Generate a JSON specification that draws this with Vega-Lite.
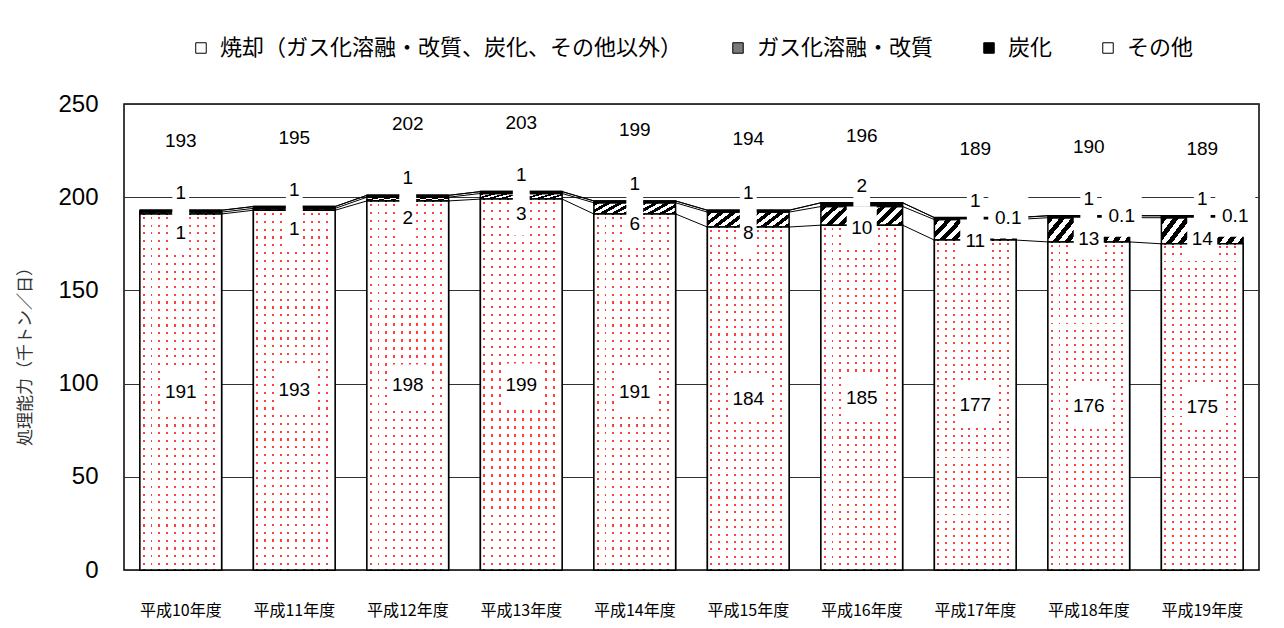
{
  "$schema": "https://vega.github.io/schema/vega-lite/v6.json",
  "width": 1135,
  "height": 466,
  "autosize": {"type": "none"},
  "padding": {"left": 124, "top": 104, "right": 25, "bottom": 58},
  "background": "#ffffff",
  "datasets": {
    "main": [
      {"year": "平成10年度", "series": "焼却（ガス化溶融・改質、炭化、その他以外）", "order": 1, "value": 191},
      {"year": "平成11年度", "series": "焼却（ガス化溶融・改質、炭化、その他以外）", "order": 1, "value": 193},
      {"year": "平成12年度", "series": "焼却（ガス化溶融・改質、炭化、その他以外）", "order": 1, "value": 198},
      {"year": "平成13年度", "series": "焼却（ガス化溶融・改質、炭化、その他以外）", "order": 1, "value": 199},
      {"year": "平成14年度", "series": "焼却（ガス化溶融・改質、炭化、その他以外）", "order": 1, "value": 191},
      {"year": "平成15年度", "series": "焼却（ガス化溶融・改質、炭化、その他以外）", "order": 1, "value": 184},
      {"year": "平成16年度", "series": "焼却（ガス化溶融・改質、炭化、その他以外）", "order": 1, "value": 185},
      {"year": "平成17年度", "series": "焼却（ガス化溶融・改質、炭化、その他以外）", "order": 1, "value": 177},
      {"year": "平成18年度", "series": "焼却（ガス化溶融・改質、炭化、その他以外）", "order": 1, "value": 176},
      {"year": "平成19年度", "series": "焼却（ガス化溶融・改質、炭化、その他以外）", "order": 1, "value": 175},
      {"year": "平成10年度", "series": "ガス化溶融・改質", "order": 2, "value": 1},
      {"year": "平成11年度", "series": "ガス化溶融・改質", "order": 2, "value": 1},
      {"year": "平成12年度", "series": "ガス化溶融・改質", "order": 2, "value": 2},
      {"year": "平成13年度", "series": "ガス化溶融・改質", "order": 2, "value": 3},
      {"year": "平成14年度", "series": "ガス化溶融・改質", "order": 2, "value": 6},
      {"year": "平成15年度", "series": "ガス化溶融・改質", "order": 2, "value": 8},
      {"year": "平成16年度", "series": "ガス化溶融・改質", "order": 2, "value": 10},
      {"year": "平成17年度", "series": "ガス化溶融・改質", "order": 2, "value": 11},
      {"year": "平成18年度", "series": "ガス化溶融・改質", "order": 2, "value": 13},
      {"year": "平成19年度", "series": "ガス化溶融・改質", "order": 2, "value": 14},
      {"year": "平成10年度", "series": "炭化", "order": 3, "value": 1},
      {"year": "平成11年度", "series": "炭化", "order": 3, "value": 1},
      {"year": "平成12年度", "series": "炭化", "order": 3, "value": 1},
      {"year": "平成13年度", "series": "炭化", "order": 3, "value": 1},
      {"year": "平成14年度", "series": "炭化", "order": 3, "value": 1},
      {"year": "平成15年度", "series": "炭化", "order": 3, "value": 1},
      {"year": "平成16年度", "series": "炭化", "order": 3, "value": 2},
      {"year": "平成17年度", "series": "炭化", "order": 3, "value": 1},
      {"year": "平成18年度", "series": "炭化", "order": 3, "value": 1},
      {"year": "平成19年度", "series": "炭化", "order": 3, "value": 1},
      {"year": "平成10年度", "series": "その他", "order": 4, "value": 0},
      {"year": "平成11年度", "series": "その他", "order": 4, "value": 0},
      {"year": "平成12年度", "series": "その他", "order": 4, "value": 0},
      {"year": "平成13年度", "series": "その他", "order": 4, "value": 0},
      {"year": "平成14年度", "series": "その他", "order": 4, "value": 0},
      {"year": "平成15年度", "series": "その他", "order": 4, "value": 0},
      {"year": "平成16年度", "series": "その他", "order": 4, "value": 0},
      {"year": "平成17年度", "series": "その他", "order": 4, "value": 0.1},
      {"year": "平成18年度", "series": "その他", "order": 4, "value": 0.1},
      {"year": "平成19年度", "series": "その他", "order": 4, "value": 0.1}
    ],
    "totals": [
      {"year": "平成10年度", "total": 193},
      {"year": "平成11年度", "total": 195},
      {"year": "平成12年度", "total": 202},
      {"year": "平成13年度", "total": 203},
      {"year": "平成14年度", "total": 199},
      {"year": "平成15年度", "total": 194},
      {"year": "平成16年度", "total": 196},
      {"year": "平成17年度", "total": 189},
      {"year": "平成18年度", "total": 190},
      {"year": "平成19年度", "total": 189}
    ]
  },
  "layer": [
    {
      "data": {"name": "main"},
      "transform": [
        {"stack": "value", "groupby": ["year"], "sort": [{"field": "order", "order": "ascending"}], "as": ["y0", "y1"]},
        {"calculate": "(datum.y0 + datum.y1) / 2", "as": "mid"},
        {"calculate": "length(toString(datum.value))", "as": "len"}
      ],
      "layer": [
        {
          "mark": {"type": "bar", "stroke": "#000000", "strokeWidth": 1.5},
          "encoding": {
            "x": {"field": "year", "type": "nominal", "scale": {"paddingInner": 0.28, "paddingOuter": 0.14}, "axis": {"title": null}},
            "y": {"field": "y1", "type": "quantitative", "scale": {"domain": [0, 250], "nice": false}, "axis": {"title": "処理能力（千トン／日）"}},
            "y2": {"field": "y0"},
            "fill": {
              "field": "series", "type": "nominal",
              "scale": {
                "domain": ["焼却（ガス化溶融・改質、炭化、その他以外）", "ガス化溶融・改質", "炭化", "その他"],
                "range": ["#ffffff", "#7a7a7a", "#000000", "#ffffff"]
              },
              "legend": {
                "orient": "none", "legendX": 66, "legendY": -67, "direction": "horizontal", "title": null,
                "symbolType": "square", "symbolSize": 110, "symbolStrokeColor": "#000000", "symbolStrokeWidth": 1,
                "labelFont": "Noto Sans CJK JP", "labelFontSize": 22, "labelColor": "#000000", "labelLimit": 700,
                "columnPadding": 44, "labelOffset": 8
              },
              "condition": [
                {
                  "test": "datum.order === 1",
                  "value": {
                    "gradient": "linear", "x1": 0, "y1": 0, "x2": 0, "y2": 1,
                    "stops": [
                      {"offset": 0, "color": "#ffffff"},
                      {"offset": 0.008, "color": "#ffffff"}, {"offset": 0.008, "color": "#ff4040"}, {"offset": 0.0140, "color": "#ff4040"}, {"offset": 0.0140, "color": "#ffffff"},
                      {"offset": 0.0296, "color": "#ffffff"}, {"offset": 0.0296, "color": "#ff4040"}, {"offset": 0.0356, "color": "#ff4040"}, {"offset": 0.0356, "color": "#ffffff"},
                      {"offset": 0.0512, "color": "#ffffff"}, {"offset": 0.0512, "color": "#ff4040"}, {"offset": 0.0572, "color": "#ff4040"}, {"offset": 0.0572, "color": "#ffffff"},
                      {"offset": 0.0728, "color": "#ffffff"}, {"offset": 0.0728, "color": "#ff4040"}, {"offset": 0.0788, "color": "#ff4040"}, {"offset": 0.0788, "color": "#ffffff"},
                      {"offset": 0.0944, "color": "#ffffff"}, {"offset": 0.0944, "color": "#ff4040"}, {"offset": 0.1004, "color": "#ff4040"}, {"offset": 0.1004, "color": "#ffffff"},
                      {"offset": 0.1160, "color": "#ffffff"}, {"offset": 0.1160, "color": "#ff4040"}, {"offset": 0.1220, "color": "#ff4040"}, {"offset": 0.1220, "color": "#ffffff"},
                      {"offset": 0.1376, "color": "#ffffff"}, {"offset": 0.1376, "color": "#ff4040"}, {"offset": 0.1436, "color": "#ff4040"}, {"offset": 0.1436, "color": "#ffffff"},
                      {"offset": 0.1592, "color": "#ffffff"}, {"offset": 0.1592, "color": "#ff4040"}, {"offset": 0.1652, "color": "#ff4040"}, {"offset": 0.1652, "color": "#ffffff"},
                      {"offset": 0.1808, "color": "#ffffff"}, {"offset": 0.1808, "color": "#ff4040"}, {"offset": 0.1868, "color": "#ff4040"}, {"offset": 0.1868, "color": "#ffffff"},
                      {"offset": 0.2024, "color": "#ffffff"}, {"offset": 0.2024, "color": "#ff4040"}, {"offset": 0.2084, "color": "#ff4040"}, {"offset": 0.2084, "color": "#ffffff"},
                      {"offset": 0.2240, "color": "#ffffff"}, {"offset": 0.2240, "color": "#ff4040"}, {"offset": 0.2300, "color": "#ff4040"}, {"offset": 0.2300, "color": "#ffffff"},
                      {"offset": 0.2456, "color": "#ffffff"}, {"offset": 0.2456, "color": "#ff4040"}, {"offset": 0.2516, "color": "#ff4040"}, {"offset": 0.2516, "color": "#ffffff"},
                      {"offset": 0.2672, "color": "#ffffff"}, {"offset": 0.2672, "color": "#ff4040"}, {"offset": 0.2732, "color": "#ff4040"}, {"offset": 0.2732, "color": "#ffffff"},
                      {"offset": 0.2888, "color": "#ffffff"}, {"offset": 0.2888, "color": "#ff4040"}, {"offset": 0.2948, "color": "#ff4040"}, {"offset": 0.2948, "color": "#ffffff"},
                      {"offset": 0.3104, "color": "#ffffff"}, {"offset": 0.3104, "color": "#ff4040"}, {"offset": 0.3164, "color": "#ff4040"}, {"offset": 0.3164, "color": "#ffffff"},
                      {"offset": 0.3320, "color": "#ffffff"}, {"offset": 0.3320, "color": "#ff4040"}, {"offset": 0.3380, "color": "#ff4040"}, {"offset": 0.3380, "color": "#ffffff"},
                      {"offset": 0.3536, "color": "#ffffff"}, {"offset": 0.3536, "color": "#ff4040"}, {"offset": 0.3596, "color": "#ff4040"}, {"offset": 0.3596, "color": "#ffffff"},
                      {"offset": 0.3752, "color": "#ffffff"}, {"offset": 0.3752, "color": "#ff4040"}, {"offset": 0.3812, "color": "#ff4040"}, {"offset": 0.3812, "color": "#ffffff"},
                      {"offset": 0.3968, "color": "#ffffff"}, {"offset": 0.3968, "color": "#ff4040"}, {"offset": 0.4028, "color": "#ff4040"}, {"offset": 0.4028, "color": "#ffffff"},
                      {"offset": 0.4184, "color": "#ffffff"}, {"offset": 0.4184, "color": "#ff4040"}, {"offset": 0.4244, "color": "#ff4040"}, {"offset": 0.4244, "color": "#ffffff"},
                      {"offset": 0.4400, "color": "#ffffff"}, {"offset": 0.4400, "color": "#ff4040"}, {"offset": 0.4460, "color": "#ff4040"}, {"offset": 0.4460, "color": "#ffffff"},
                      {"offset": 0.4616, "color": "#ffffff"}, {"offset": 0.4616, "color": "#ff4040"}, {"offset": 0.4676, "color": "#ff4040"}, {"offset": 0.4676, "color": "#ffffff"},
                      {"offset": 0.4832, "color": "#ffffff"}, {"offset": 0.4832, "color": "#ff4040"}, {"offset": 0.4892, "color": "#ff4040"}, {"offset": 0.4892, "color": "#ffffff"},
                      {"offset": 0.5048, "color": "#ffffff"}, {"offset": 0.5048, "color": "#ff4040"}, {"offset": 0.5108, "color": "#ff4040"}, {"offset": 0.5108, "color": "#ffffff"},
                      {"offset": 0.5264, "color": "#ffffff"}, {"offset": 0.5264, "color": "#ff4040"}, {"offset": 0.5324, "color": "#ff4040"}, {"offset": 0.5324, "color": "#ffffff"},
                      {"offset": 0.5480, "color": "#ffffff"}, {"offset": 0.5480, "color": "#ff4040"}, {"offset": 0.5540, "color": "#ff4040"}, {"offset": 0.5540, "color": "#ffffff"},
                      {"offset": 0.5696, "color": "#ffffff"}, {"offset": 0.5696, "color": "#ff4040"}, {"offset": 0.5756, "color": "#ff4040"}, {"offset": 0.5756, "color": "#ffffff"},
                      {"offset": 0.5912, "color": "#ffffff"}, {"offset": 0.5912, "color": "#ff4040"}, {"offset": 0.5972, "color": "#ff4040"}, {"offset": 0.5972, "color": "#ffffff"},
                      {"offset": 0.6128, "color": "#ffffff"}, {"offset": 0.6128, "color": "#ff4040"}, {"offset": 0.6188, "color": "#ff4040"}, {"offset": 0.6188, "color": "#ffffff"},
                      {"offset": 0.6344, "color": "#ffffff"}, {"offset": 0.6344, "color": "#ff4040"}, {"offset": 0.6404, "color": "#ff4040"}, {"offset": 0.6404, "color": "#ffffff"},
                      {"offset": 0.6560, "color": "#ffffff"}, {"offset": 0.6560, "color": "#ff4040"}, {"offset": 0.6620, "color": "#ff4040"}, {"offset": 0.6620, "color": "#ffffff"},
                      {"offset": 0.6776, "color": "#ffffff"}, {"offset": 0.6776, "color": "#ff4040"}, {"offset": 0.6836, "color": "#ff4040"}, {"offset": 0.6836, "color": "#ffffff"},
                      {"offset": 0.6992, "color": "#ffffff"}, {"offset": 0.6992, "color": "#ff4040"}, {"offset": 0.7052, "color": "#ff4040"}, {"offset": 0.7052, "color": "#ffffff"},
                      {"offset": 0.7208, "color": "#ffffff"}, {"offset": 0.7208, "color": "#ff4040"}, {"offset": 0.7268, "color": "#ff4040"}, {"offset": 0.7268, "color": "#ffffff"},
                      {"offset": 0.7424, "color": "#ffffff"}, {"offset": 0.7424, "color": "#ff4040"}, {"offset": 0.7484, "color": "#ff4040"}, {"offset": 0.7484, "color": "#ffffff"},
                      {"offset": 0.7640, "color": "#ffffff"}, {"offset": 0.7640, "color": "#ff4040"}, {"offset": 0.7700, "color": "#ff4040"}, {"offset": 0.7700, "color": "#ffffff"},
                      {"offset": 0.7856, "color": "#ffffff"}, {"offset": 0.7856, "color": "#ff4040"}, {"offset": 0.7916, "color": "#ff4040"}, {"offset": 0.7916, "color": "#ffffff"},
                      {"offset": 0.8072, "color": "#ffffff"}, {"offset": 0.8072, "color": "#ff4040"}, {"offset": 0.8132, "color": "#ff4040"}, {"offset": 0.8132, "color": "#ffffff"},
                      {"offset": 0.8288, "color": "#ffffff"}, {"offset": 0.8288, "color": "#ff4040"}, {"offset": 0.8348, "color": "#ff4040"}, {"offset": 0.8348, "color": "#ffffff"},
                      {"offset": 0.8504, "color": "#ffffff"}, {"offset": 0.8504, "color": "#ff4040"}, {"offset": 0.8564, "color": "#ff4040"}, {"offset": 0.8564, "color": "#ffffff"},
                      {"offset": 0.8720, "color": "#ffffff"}, {"offset": 0.8720, "color": "#ff4040"}, {"offset": 0.8780, "color": "#ff4040"}, {"offset": 0.8780, "color": "#ffffff"},
                      {"offset": 0.8936, "color": "#ffffff"}, {"offset": 0.8936, "color": "#ff4040"}, {"offset": 0.8996, "color": "#ff4040"}, {"offset": 0.8996, "color": "#ffffff"},
                      {"offset": 0.9152, "color": "#ffffff"}, {"offset": 0.9152, "color": "#ff4040"}, {"offset": 0.9212, "color": "#ff4040"}, {"offset": 0.9212, "color": "#ffffff"},
                      {"offset": 0.9368, "color": "#ffffff"}, {"offset": 0.9368, "color": "#ff4040"}, {"offset": 0.9428, "color": "#ff4040"}, {"offset": 0.9428, "color": "#ffffff"},
                      {"offset": 0.9584, "color": "#ffffff"}, {"offset": 0.9584, "color": "#ff4040"}, {"offset": 0.9644, "color": "#ff4040"}, {"offset": 0.9644, "color": "#ffffff"},
                      {"offset": 0.9800, "color": "#ffffff"}, {"offset": 0.9800, "color": "#ff4040"}, {"offset": 0.9860, "color": "#ff4040"}, {"offset": 0.9860, "color": "#ffffff"},
                      {"offset": 1, "color": "#ffffff"}
                    ]
                  }
                },
                {
                  "test": "datum.order === 2",
                  "value": {
                    "gradient": "linear", "x1": 0, "y1": 0, "x2": 1.2, "y2": 0.29,
                    "stops": [
                      {"offset": 0, "color": "#000000"}, {"offset": 0.057, "color": "#000000"}, {"offset": 0.057, "color": "#ffffff"}, {"offset": 0.115, "color": "#ffffff"},
                      {"offset": 0.115, "color": "#000000"}, {"offset": 0.172, "color": "#000000"}, {"offset": 0.172, "color": "#ffffff"}, {"offset": 0.23, "color": "#ffffff"},
                      {"offset": 0.23, "color": "#000000"}, {"offset": 0.287, "color": "#000000"}, {"offset": 0.287, "color": "#ffffff"}, {"offset": 0.345, "color": "#ffffff"},
                      {"offset": 0.345, "color": "#000000"}, {"offset": 0.402, "color": "#000000"}, {"offset": 0.402, "color": "#ffffff"}, {"offset": 0.46, "color": "#ffffff"},
                      {"offset": 0.46, "color": "#000000"}, {"offset": 0.517, "color": "#000000"}, {"offset": 0.517, "color": "#ffffff"}, {"offset": 0.575, "color": "#ffffff"},
                      {"offset": 0.575, "color": "#000000"}, {"offset": 0.632, "color": "#000000"}, {"offset": 0.632, "color": "#ffffff"}, {"offset": 0.69, "color": "#ffffff"},
                      {"offset": 0.69, "color": "#000000"}, {"offset": 0.747, "color": "#000000"}, {"offset": 0.747, "color": "#ffffff"}, {"offset": 0.805, "color": "#ffffff"},
                      {"offset": 0.805, "color": "#000000"}, {"offset": 0.862, "color": "#000000"}, {"offset": 0.862, "color": "#ffffff"}, {"offset": 0.92, "color": "#ffffff"},
                      {"offset": 0.92, "color": "#000000"}, {"offset": 0.977, "color": "#000000"}, {"offset": 0.977, "color": "#ffffff"}, {"offset": 1, "color": "#ffffff"}
                    ]
                  }
                }
              ]
            }
          }
        },
        {
          "transform": [{"filter": "datum.order === 1"}],
          "mark": {
            "type": "bar", "stroke": "#000000", "strokeWidth": 1.5,
            "fill": {
              "gradient": "linear", "x1": 0, "y1": 0, "x2": 1, "y2": 0,
              "stops": [
                {"offset": 0, "color": "#ffffff"},
                {"offset": 0.035, "color": "#ffffff"}, {"offset": 0.035, "color": "rgba(255,255,255,0)"}, {"offset": 0.059, "color": "rgba(255,255,255,0)"}, {"offset": 0.059, "color": "#ffffff"},
                {"offset": 0.130, "color": "#ffffff"}, {"offset": 0.130, "color": "rgba(255,255,255,0)"}, {"offset": 0.154, "color": "rgba(255,255,255,0)"}, {"offset": 0.154, "color": "#ffffff"},
                {"offset": 0.225, "color": "#ffffff"}, {"offset": 0.225, "color": "rgba(255,255,255,0)"}, {"offset": 0.249, "color": "rgba(255,255,255,0)"}, {"offset": 0.249, "color": "#ffffff"},
                {"offset": 0.320, "color": "#ffffff"}, {"offset": 0.320, "color": "rgba(255,255,255,0)"}, {"offset": 0.344, "color": "rgba(255,255,255,0)"}, {"offset": 0.344, "color": "#ffffff"},
                {"offset": 0.415, "color": "#ffffff"}, {"offset": 0.415, "color": "rgba(255,255,255,0)"}, {"offset": 0.439, "color": "rgba(255,255,255,0)"}, {"offset": 0.439, "color": "#ffffff"},
                {"offset": 0.510, "color": "#ffffff"}, {"offset": 0.510, "color": "rgba(255,255,255,0)"}, {"offset": 0.534, "color": "rgba(255,255,255,0)"}, {"offset": 0.534, "color": "#ffffff"},
                {"offset": 0.605, "color": "#ffffff"}, {"offset": 0.605, "color": "rgba(255,255,255,0)"}, {"offset": 0.629, "color": "rgba(255,255,255,0)"}, {"offset": 0.629, "color": "#ffffff"},
                {"offset": 0.700, "color": "#ffffff"}, {"offset": 0.700, "color": "rgba(255,255,255,0)"}, {"offset": 0.724, "color": "rgba(255,255,255,0)"}, {"offset": 0.724, "color": "#ffffff"},
                {"offset": 0.795, "color": "#ffffff"}, {"offset": 0.795, "color": "rgba(255,255,255,0)"}, {"offset": 0.819, "color": "rgba(255,255,255,0)"}, {"offset": 0.819, "color": "#ffffff"},
                {"offset": 0.890, "color": "#ffffff"}, {"offset": 0.890, "color": "rgba(255,255,255,0)"}, {"offset": 0.914, "color": "rgba(255,255,255,0)"}, {"offset": 0.914, "color": "#ffffff"},
                {"offset": 1, "color": "#ffffff"}
              ]
            }
          },
          "encoding": {
            "x": {"field": "year", "type": "nominal", "axis": {"title": null}},
            "y": {"field": "y1", "type": "quantitative", "scale": {"domain": [0, 250], "nice": false}, "axis": {"title": "処理能力（千トン／日）"}},
            "y2": {"field": "y0"}
          }
        },
        {
          "transform": [
            {"window": [{"op": "lead", "field": "y1", "as": "ny1"}, {"op": "lead", "field": "year", "as": "nyear"}], "groupby": ["series"], "sort": [{"field": "year", "order": "ascending"}]},
            {"filter": "datum.nyear != null"}
          ],
          "mark": {"type": "rule", "stroke": "#000000", "strokeWidth": 1},
          "encoding": {
            "x": {"field": "year", "type": "nominal", "bandPosition": 1, "axis": {"title": null}},
            "x2": {"field": "nyear", "bandPosition": 0},
            "y": {"field": "y1", "type": "quantitative", "scale": {"domain": [0, 250], "nice": false}, "axis": {"title": "処理能力（千トン／日）"}},
            "y2": {"field": "ny1"}
          }
        },
        {
          "transform": [{"filter": "datum.order === 1"}],
          "encoding": {
            "x": {"field": "year", "type": "nominal", "axis": {"title": null}},
            "y": {"field": "mid", "type": "quantitative", "scale": {"domain": [0, 250], "nice": false}, "axis": {"title": "処理能力（千トン／日）"}}
          },
          "layer": [
            {
              "mark": {"type": "point", "filled": true, "fill": "#ffffff", "strokeWidth": 0, "opacity": 1, "size": 1600},
              "encoding": {"shape": {"field": "len", "type": "nominal", "scale": {"domain": [1, 2, 3], "range": ["M-0.42,-1.05H0.42V1.05H-0.42Z", "M-0.75,-1.05H0.75V1.05H-0.75Z", "M-1,-1.05H1V1.05H-1Z"]}, "legend": null}}
            },
            {
              "mark": {"type": "text", "font": "Liberation Sans", "fontSize": 19, "color": "#000000", "align": "center", "baseline": "middle"},
              "encoding": {"text": {"field": "value", "type": "nominal"}}
            }
          ]
        },
        {
          "transform": [{"filter": "datum.order === 2"}],
          "encoding": {
            "x": {"field": "year", "type": "nominal", "axis": {"title": null}},
            "y": {"field": "y1", "type": "quantitative", "scale": {"domain": [0, 250], "nice": false}, "axis": {"title": "処理能力（千トン／日）"}}
          },
          "layer": [
            {
              "mark": {"type": "point", "filled": true, "fill": "#ffffff", "strokeWidth": 0, "opacity": 1, "size": 1600, "yOffset": 21},
              "encoding": {"shape": {"field": "len", "type": "nominal", "scale": {"domain": [1, 2, 3], "range": ["M-0.42,-1.05H0.42V1.05H-0.42Z", "M-0.75,-1.05H0.75V1.05H-0.75Z", "M-1,-1.05H1V1.05H-1Z"]}, "legend": null}}
            },
            {
              "mark": {"type": "text", "font": "Liberation Sans", "fontSize": 19, "color": "#000000", "align": "center", "baseline": "middle", "yOffset": 21},
              "encoding": {"text": {"field": "value", "type": "nominal"}}
            }
          ]
        },
        {
          "transform": [{"filter": "datum.order === 3"}],
          "encoding": {
            "x": {"field": "year", "type": "nominal", "axis": {"title": null}},
            "y": {"field": "y1", "type": "quantitative", "scale": {"domain": [0, 250], "nice": false}, "axis": {"title": "処理能力（千トン／日）"}}
          },
          "layer": [
            {
              "mark": {"type": "point", "filled": true, "fill": "#ffffff", "strokeWidth": 0, "opacity": 1, "size": 1600, "yOffset": -17},
              "encoding": {"shape": {"field": "len", "type": "nominal", "scale": {"domain": [1, 2, 3], "range": ["M-0.42,-1.05H0.42V1.05H-0.42Z", "M-0.75,-1.05H0.75V1.05H-0.75Z", "M-1,-1.05H1V1.05H-1Z"]}, "legend": null}}
            },
            {
              "mark": {"type": "text", "font": "Liberation Sans", "fontSize": 19, "color": "#000000", "align": "center", "baseline": "middle", "yOffset": -17},
              "encoding": {"text": {"field": "value", "type": "nominal"}}
            }
          ]
        },
        {
          "transform": [{"filter": "datum.order === 4 && datum.value > 0"}],
          "encoding": {
            "x": {"field": "year", "type": "nominal", "axis": {"title": null}},
            "y": {"field": "y1", "type": "quantitative", "scale": {"domain": [0, 250], "nice": false}, "axis": {"title": "処理能力（千トン／日）"}}
          },
          "layer": [
            {
              "mark": {"type": "point", "filled": true, "fill": "#ffffff", "strokeWidth": 0, "opacity": 1, "size": 1600, "xOffset": 33},
              "encoding": {"shape": {"field": "len", "type": "nominal", "scale": {"domain": [1, 2, 3], "range": ["M-0.42,-1.05H0.42V1.05H-0.42Z", "M-0.75,-1.05H0.75V1.05H-0.75Z", "M-1,-1.05H1V1.05H-1Z"]}, "legend": null}}
            },
            {
              "mark": {"type": "text", "font": "Liberation Sans", "fontSize": 19, "color": "#000000", "align": "center", "baseline": "middle", "xOffset": 33},
              "encoding": {"text": {"field": "value", "type": "nominal"}}
            }
          ]
        }
      ]
    },
    {
      "data": {"name": "totals"},
      "mark": {"type": "text", "font": "Liberation Sans", "fontSize": 19, "color": "#000000", "align": "center", "baseline": "middle", "yOffset": -69},
      "encoding": {
        "x": {"field": "year", "type": "nominal", "axis": {"title": null}},
        "y": {"field": "total", "type": "quantitative", "scale": {"domain": [0, 250], "nice": false}, "axis": {"title": "処理能力（千トン／日）"}},
        "text": {"field": "total", "type": "nominal"}
      }
    }
  ],
  "config": {
    "view": {"stroke": "#000000", "strokeWidth": 1.5},
    "font": "Noto Sans CJK JP",
    "axisX": {
      "labelAngle": 0, "labelFont": "Noto Sans CJK JP", "labelFontSize": 16, "labelColor": "#000000",
      "labelPadding": 32, "domain": false, "grid": false, "ticks": false
    },
    "axisY": {
      "tickCount": 5, "grid": true, "gridColor": "#333333", "gridWidth": 1, "gridOpacity": 1,
      "domain": false, "ticks": false, "labelFont": "Liberation Sans", "labelFontSize": 24,
      "labelColor": "#000000", "labelPadding": 26,
      "titleFont": "Noto Sans CJK JP", "titleFontSize": 17, "titleFontWeight": "normal",
      "titleColor": "#333333", "titleAngle": 270, "titleAlign": "center", "titleBaseline": "middle",
      "titleX": -99, "titleY": 248
    }
  }
}
